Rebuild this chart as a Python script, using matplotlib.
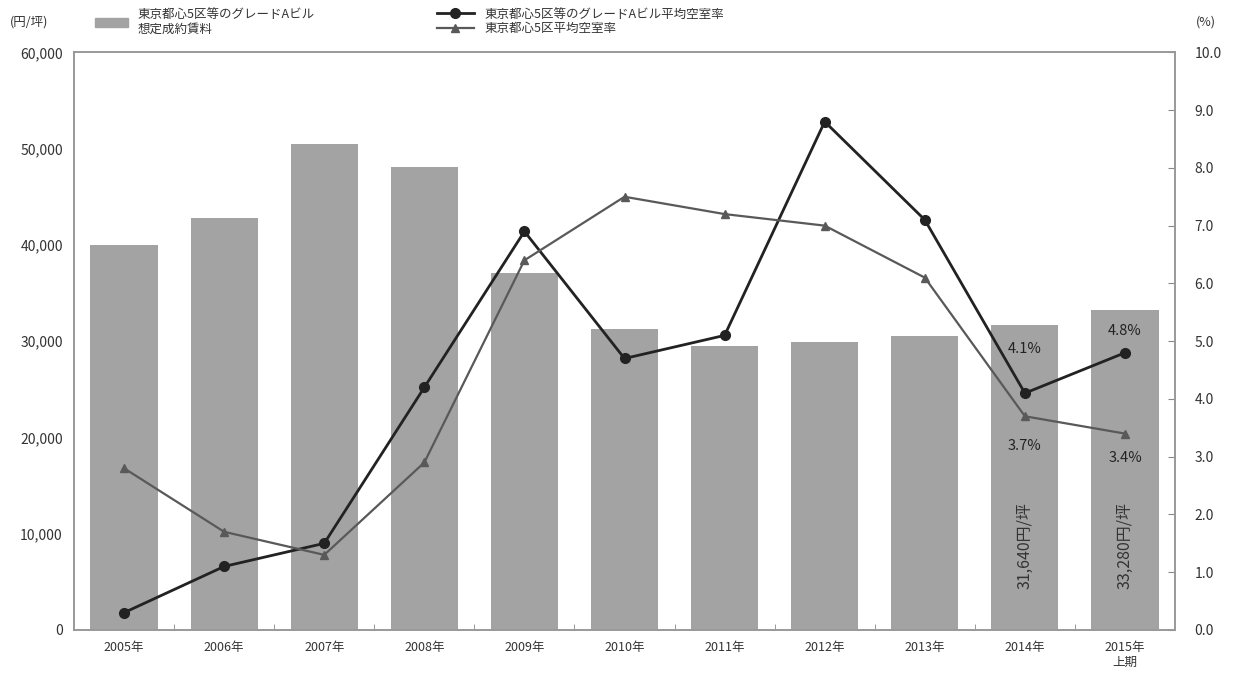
import matplotlib.pyplot as plt
from matplotlib.lines import Line2D
from matplotlib.patches import Patch

plt.rcParams['font.family'] = ['Noto Sans CJK JP', 'DejaVu Sans']

# data
years = ['2005年', '2006年', '2007年', '2008年', '2009年', '2010年',
         '2011年', '2012年', '2013年', '2014年', '2015年\n上期']
rent = [39980, 42800, 50470, 48080, 37070, 31260, 29490, 29900, 30530, 31640, 33280]
vacancy_a = [0.3, 1.1, 1.5, 4.2, 6.9, 4.7, 5.1, 8.8, 7.1, 4.1, 4.8]
vacancy_all = [2.8, 1.7, 1.3, 2.9, 6.4, 7.5, 7.2, 7.0, 6.1, 3.7, 3.4]

bar_color = '#a3a3a3'
dark = '#222222'
mid = '#595959'
txt = '#333333'

fig = plt.figure(figsize=(12.33, 6.78), dpi=100)
ax = fig.add_axes([0.060, 0.0708, 0.893, 0.852])
ax2 = ax.twinx()

x = list(range(len(years)))
ax.bar(x, rent, width=0.67, color=bar_color, zorder=1)
ax.set_xlim(-0.5, len(years) - 0.5)
ax.set_ylim(0, 60000)
ax.set_yticks(range(0, 60001, 10000))
ax.set_yticklabels([f'{v:,}' for v in range(0, 60001, 10000)], fontsize=10, color=txt)
ax.set_xticks(x)
ax.set_xticklabels(years, fontsize=9, color=txt)
ax.tick_params(axis='x', length=0, pad=8)
ax.set_xticks([i + 0.5 for i in x[:-1]], minor=True)
ax.tick_params(axis='x', which='minor', direction='in', length=4, color='#888888')
ax.tick_params(axis='y', length=0, pad=8)

ax2.plot(x, vacancy_a, color=dark, lw=2, marker='o', ms=7, zorder=3)
ax2.plot(x, vacancy_all, color=mid, lw=1.6, marker='^', ms=6, zorder=3)
ax2.set_ylim(0, 10)
ax2.set_yticks([i for i in range(11)])
ax2.set_yticklabels([f'{i:.1f}' for i in range(11)], fontsize=10, color=txt)
ax2.tick_params(axis='y', direction='in', length=5, color='#888888', pad=14)

for a in (ax, ax2):
    for s in a.spines.values():
        s.set_color('#999999')
        s.set_linewidth(1.2)

# value annotations
ax2.text(9, vacancy_a[9] + 0.65, '4.1%', ha='center', va='bottom', fontsize=10.5, color=dark)
ax2.text(10, vacancy_a[10] + 0.25, '4.8%', ha='center', va='bottom', fontsize=10.5, color=dark)
ax2.text(9, vacancy_all[9] - 0.4, '3.7%', ha='center', va='top', fontsize=10.5, color=dark)
ax2.text(10, vacancy_all[10] - 0.3, '3.4%', ha='center', va='top', fontsize=10.5, color=dark)
ax.text(9, 8800, f'{rent[9]:,}円/坪', rotation=90, ha='center', va='center', fontsize=11.5, color=txt)
ax.text(10, 8800, f'{rent[10]:,}円/坪', rotation=90, ha='center', va='center', fontsize=11.5, color=txt)

# axis unit labels
fig.text(0.008, 0.967, '(円/坪)', fontsize=9, color=txt, va='center')
fig.text(0.970, 0.967, '(%)', fontsize=9, color=txt, va='center')

# legends
fig.legend(handles=[Patch(color=bar_color)],
           labels=['東京都心5区等のグレードAビル\n想定成約賃料'],
           loc='upper left', bbox_to_anchor=(0.068, 1.005), frameon=False,
           fontsize=9, handlelength=2.6, handleheight=0.8, labelcolor=txt)
fig.legend(handles=[Line2D([], [], color=dark, lw=2, marker='o', ms=7),
                    Line2D([], [], color=mid, lw=1.6, marker='^', ms=6)],
           labels=['東京都心5区等のグレードAビル平均空室率', '東京都心5区平均空室率'],
           loc='upper left', bbox_to_anchor=(0.345, 1.005), frameon=False,
           fontsize=9, handlelength=3, labelspacing=0.1, labelcolor=txt)

fig.savefig('out.png', dpi=100)
